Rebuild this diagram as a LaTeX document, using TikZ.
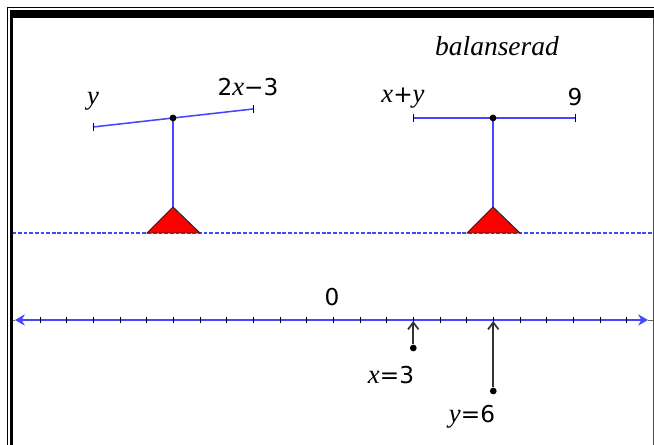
\documentclass[tikz,border=0pt]{standalone}
\usepackage{fontspec}
\setmainfont{DejaVu Sans}
\newfontfamily\serifit{Liberation Serif}[Scale=1.15]
\usetikzlibrary{arrows.meta}
\definecolor{nsblue}{RGB}{70,70,255}
\newcommand\mvar[1]{{\serifit\itshape #1}}

\begin{document}
\begin{tikzpicture}[
    x=0.025cm, y=-0.025cm,
    font=\fontsize{16.5}{19}\selectfont,
    >=Stealth,
    % Define styles for the parts
    beam/.style={draw=nsblue, line width=1.1pt},
    post/.style={draw=nsblue, line width=1pt},
    fulcrum/.style={draw=black!85, fill=red, line width=0.7pt, line join=miter},
    endtick/.style={draw=black, line width=0.5pt},
    pin/.style={circle, fill=black, inner sep=0pt, minimum size=4.8pt},
    lbl/.style={inner sep=0pt},
    marker/.style={draw=black!80, line width=1.2pt, -{Straight Barb[length=5pt,width=7.5pt]}}
]
\useasboundingbox (0,0) rectangle (654,445);

% ==========================================
% Window frame
% ==========================================
\draw[line width=0.7pt] (7,445) |- (654,7);
\fill (10,445) rectangle (12.5,10);
\fill (10,10) rectangle (654,18);
\draw[black!70, line width=0.7pt] (653,18) -- (653,445);

\node[lbl, font=\fontsize{17}{20}\selectfont] (title) at (497,46) {\mvar{balanserad}};

% ground line
\draw[nsblue, line width=0.8pt, dash pattern=on 2.6pt off 1.4pt] (12.5,233) -- (653,233);

% ==========================================
% Left seesaw: y versus 2x-3
% ==========================================
\coordinate (lpiv) at (173,118);
\coordinate (lapex) at (173,207);
\coordinate (lleft) at (93,127);
\coordinate (lright) at (253,109);

\draw[beam] (lleft) -- (lright);
\draw[endtick] ([yshift=-3]lleft) -- ([yshift=3]lleft);
\draw[endtick] ([yshift=-3]lright) -- ([yshift=3]lright);
\draw[post] (lpiv) -- (lapex);
\draw[fulcrum] (lapex) -- ++(-26,26) -- ++(53,0) -- cycle;
\node[pin] (lpin) at (lpiv) {};

\node[lbl] (ly) at (93,101) {\mvar{y}};
\node[lbl] (lexpr) at (248,87) {2\mvar{x}−3};

% ==========================================
% Right seesaw: x+y versus 9
% ==========================================
\coordinate (rpiv) at (493,118);
\coordinate (rapex) at (493,207);
\coordinate (rleft) at (413,118);
\coordinate (rright) at (575,118);

\draw[beam] (rleft) -- (rright);
\draw[endtick] ([yshift=-3]rleft) -- ([yshift=3]rleft);
\draw[endtick] ([yshift=-3]rright) -- ([yshift=3]rright);
\draw[post] (rpiv) -- (rapex);
\draw[fulcrum] (rapex) -- ++(-26,26) -- ++(53,0) -- cycle;
\node[pin] (rpin) at (rpiv) {};

\node[lbl] (rexpr) at (403,98) {\mvar{x}+\mvar{y}};
\node[lbl] (rnine) at (575,97) {9};

% ==========================================
% Number line with the solutions
% ==========================================
\coordinate (nlstart) at (15,320);
\coordinate (nlend) at (648,320);
\draw[black!60, line width=0.6pt] (12.5,320) -- (nlstart);
\draw[black!60, line width=0.6pt] (nlend) -- (653,320);
\draw[nsblue, line width=1.1pt, {Stealth[length=7pt,width=8pt]}-{Stealth[length=7pt,width=8pt]}] (nlstart) -- (nlend);
\foreach \k in {-11,...,11}
    \draw[black, line width=0.45pt] ({333.3+26.67*\k},317) -- ++(0,6);
\node[lbl] (zero) at (332,297) {0};

\coordinate (xtick) at (413.3,321);
\coordinate (ytick) at (493.3,321);
\node[pin] (xdot) at (413.3,348) {};
\node[pin] (ydot) at (493.3,391) {};
\draw[marker] (xdot) -- (xtick);
\draw[marker] (ydot) -- (ytick);

\node[lbl] (xsol) at (391,375) {\mvar{x}=3};
\node[lbl] (ysol) at (472,417) {\mvar{y}=6};

\end{tikzpicture}
\end{document}
